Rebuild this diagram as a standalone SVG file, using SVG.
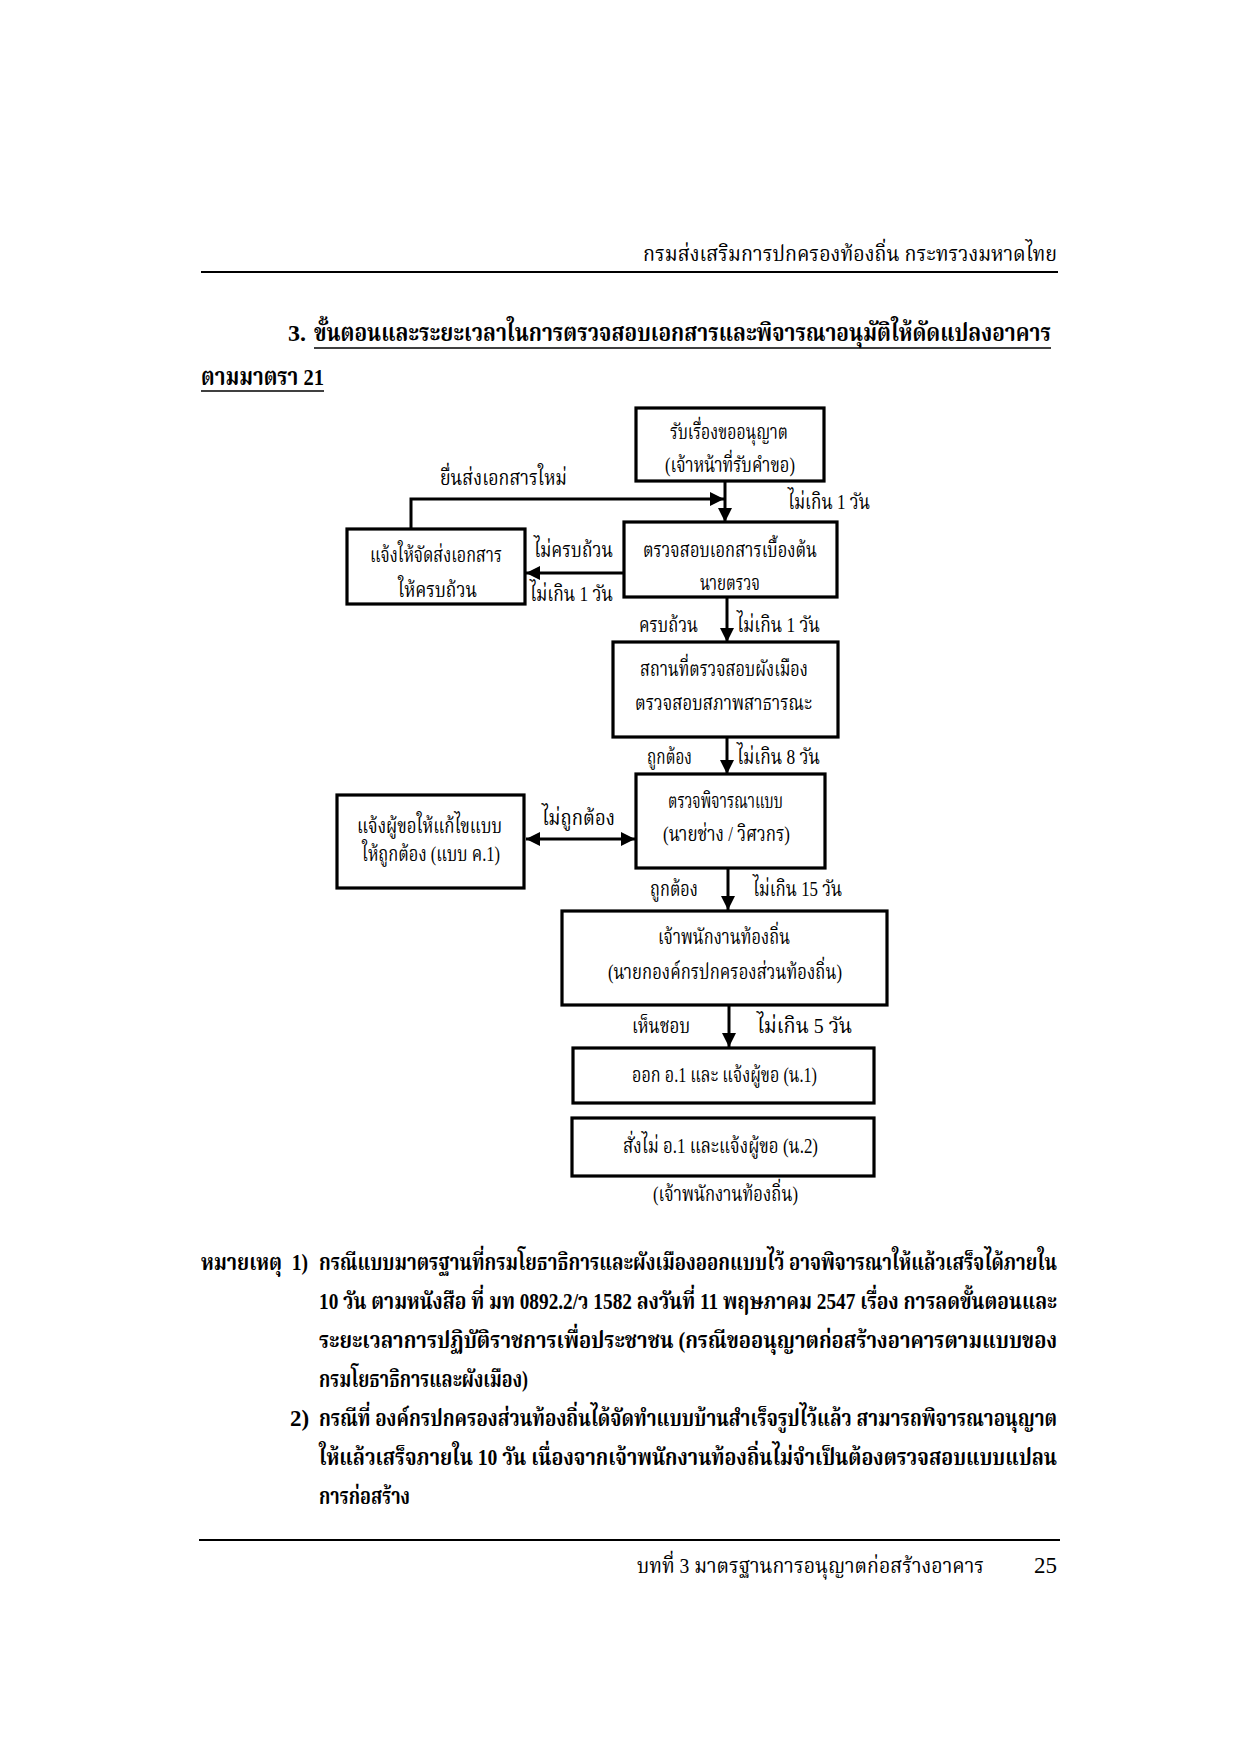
<svg xmlns="http://www.w3.org/2000/svg" width="1240" height="1754" viewBox="0 0 1240 1754">
<defs>
<style>
text{font-family:"Liberation Serif","Noto Serif Thai","Noto Sans Thai","Loma","Garuda","Norasi",serif;fill:#000}
.t{font-size:21px}
.c{text-anchor:middle}
.b{font-weight:bold}
.n{font-size:23px;font-weight:bold}
.box{fill:#fff;stroke:#000;stroke-width:3.2}
.ln{fill:none;stroke:#000;stroke-width:3}
.rule{stroke:#000;stroke-width:2}
</style>
<marker id="ah" viewBox="0 0 10 10" refX="10" refY="5" markerWidth="14" markerHeight="14" markerUnits="userSpaceOnUse" orient="auto-start-reverse">
<path d="M0,0 L10,5 L0,10 z" fill="#000"/>
</marker>
</defs>
<rect width="1240" height="1754" fill="#fff"/>

<g id="header">
<text class="t" x="1057" y="261" text-anchor="end" textLength="414" lengthAdjust="spacingAndGlyphs">กรมส่งเสริมการปกครองท้องถิ่น กระทรวงมหาดไทย</text>
<line class="rule" x1="201" y1="272" x2="1058" y2="272"/>
</g>

<g id="title">
<text class="b" x="288" y="341" font-size="24">3.</text>
<text class="b" x="314" y="341" font-size="24" textLength="737" lengthAdjust="spacingAndGlyphs">ขั้นตอนและระยะเวลาในการตรวจสอบเอกสารและพิจารณาอนุมัติให้ดัดแปลงอาคาร</text>
<line x1="314" y1="348" x2="1051" y2="348" stroke="#000" stroke-width="1.6"/>
<text class="b" x="201" y="385" font-size="24" textLength="123" lengthAdjust="spacingAndGlyphs">ตามมาตรา 21</text>
<line x1="201" y1="391" x2="324" y2="391" stroke="#000" stroke-width="1.6"/>
</g>

<g id="connectors">
<line class="ln" x1="725" y1="481" x2="725" y2="522" marker-end="url(#ah)"/>
<polyline class="ln" points="411,529 411,499 724,499" marker-end="url(#ah)"/>
<line class="ln" x1="624" y1="573" x2="526" y2="573" marker-end="url(#ah)"/>
<line class="ln" x1="727" y1="597" x2="727" y2="642" marker-end="url(#ah)"/>
<line class="ln" x1="727" y1="737" x2="727" y2="774" marker-end="url(#ah)"/>
<line class="ln" x1="526" y1="839" x2="635" y2="839" marker-start="url(#ah)" marker-end="url(#ah)"/>
<line class="ln" x1="728" y1="868" x2="728" y2="910" marker-end="url(#ah)"/>
<line class="ln" x1="729" y1="1005" x2="729" y2="1047" marker-end="url(#ah)"/>
<text class="t" x="440" y="485" textLength="127" lengthAdjust="spacingAndGlyphs">ยื่นส่งเอกสารใหม่</text>
<text class="t" x="788" y="509" textLength="82" lengthAdjust="spacingAndGlyphs">ไม่เกิน 1 วัน</text>
<text class="t" x="534" y="557" textLength="79" lengthAdjust="spacingAndGlyphs">ไม่ครบถ้วน</text>
<text class="t" x="530" y="601" textLength="83" lengthAdjust="spacingAndGlyphs">ไม่เกิน 1 วัน</text>
<text class="t" x="639" y="632" textLength="59" lengthAdjust="spacingAndGlyphs">ครบถ้วน</text>
<text class="t" x="737" y="632" textLength="83" lengthAdjust="spacingAndGlyphs">ไม่เกิน 1 วัน</text>
<text class="t" x="647" y="764" textLength="45" lengthAdjust="spacingAndGlyphs">ถูกต้อง</text>
<text class="t" x="737" y="764" textLength="83" lengthAdjust="spacingAndGlyphs">ไม่เกิน 8 วัน</text>
<text class="t" x="542" y="825" textLength="73" lengthAdjust="spacingAndGlyphs">ไม่ถูกต้อง</text>
<text class="t" x="650" y="896" textLength="48" lengthAdjust="spacingAndGlyphs">ถูกต้อง</text>
<text class="t" x="753" y="896" textLength="89" lengthAdjust="spacingAndGlyphs">ไม่เกิน 15 วัน</text>
<text class="t" x="632" y="1033" textLength="58" lengthAdjust="spacingAndGlyphs">เห็นชอบ</text>
<text class="t" x="757" y="1033" textLength="95" lengthAdjust="spacingAndGlyphs">ไม่เกิน 5 วัน</text>
</g>

<g id="n1">
<rect class="box" x="636" y="408" width="188" height="73"/>
<text class="t" x="670" y="439" textLength="118" lengthAdjust="spacingAndGlyphs">รับเรื่องขออนุญาต</text>
<text class="t" x="665" y="472" textLength="130" lengthAdjust="spacingAndGlyphs">(เจ้าหน้าที่รับคำขอ)</text>
</g>
<g id="n2">
<rect class="box" x="624" y="522" width="213" height="75"/>
<text class="t" x="643" y="557" textLength="174" lengthAdjust="spacingAndGlyphs">ตรวจสอบเอกสารเบื้องต้น</text>
<text class="t" x="700" y="590" textLength="60" lengthAdjust="spacingAndGlyphs">นายตรวจ</text>
</g>
<g id="n3">
<rect class="box" x="347" y="529" width="178" height="75"/>
<text class="t" x="370" y="562" textLength="132" lengthAdjust="spacingAndGlyphs">แจ้งให้จัดส่งเอกสาร</text>
<text class="t" x="398" y="597" textLength="79" lengthAdjust="spacingAndGlyphs">ให้ครบถ้วน</text>
</g>
<g id="n4">
<rect class="box" x="613" y="642" width="225" height="95"/>
<text class="t" x="640" y="676" textLength="168" lengthAdjust="spacingAndGlyphs">สถานที่ตรวจสอบผังเมือง</text>
<text class="t" x="635" y="710" textLength="177" lengthAdjust="spacingAndGlyphs">ตรวจสอบสภาพสาธารณะ</text>
</g>
<g id="n5">
<rect class="box" x="636" y="774" width="189" height="94"/>
<text class="t" x="668" y="808" textLength="115" lengthAdjust="spacingAndGlyphs">ตรวจพิจารณาแบบ</text>
<text class="t" x="663" y="841" textLength="127" lengthAdjust="spacingAndGlyphs">(นายช่าง / วิศวกร)</text>
</g>
<g id="n6">
<rect class="box" x="337" y="795" width="187" height="93"/>
<text class="t" x="357" y="833" textLength="145" lengthAdjust="spacingAndGlyphs">แจ้งผู้ขอให้แก้ไขแบบ</text>
<text class="t" x="362" y="861" textLength="138" lengthAdjust="spacingAndGlyphs">ให้ถูกต้อง (แบบ ค.1)</text>
</g>
<g id="n7">
<rect class="box" x="562" y="911" width="325" height="94"/>
<text class="t" x="658" y="944" textLength="132" lengthAdjust="spacingAndGlyphs">เจ้าพนักงานท้องถิ่น</text>
<text class="t" x="608" y="979" textLength="234" lengthAdjust="spacingAndGlyphs">(นายกองค์กรปกครองส่วนท้องถิ่น)</text>
</g>
<g id="n8">
<rect class="box" x="573" y="1048" width="301" height="55"/>
<text class="t" x="632" y="1082" textLength="185" lengthAdjust="spacingAndGlyphs">ออก อ.1 และ แจ้งผู้ขอ (น.1)</text>
</g>
<g id="n9">
<rect class="box" x="572" y="1118" width="302" height="58"/>
<text class="t" x="623" y="1153" textLength="195" lengthAdjust="spacingAndGlyphs">สั่งไม่ อ.1 และแจ้งผู้ขอ (น.2)</text>
</g>
<g id="n9label">
<text class="t" x="653" y="1201" textLength="145" lengthAdjust="spacingAndGlyphs">(เจ้าพนักงานท้องถิ่น)</text>
</g>

<g id="notes">
<text class="n" x="201" y="1270" xml:space="preserve" textLength="107" lengthAdjust="spacingAndGlyphs">หมายเหตุ  1)</text>
<text class="n" x="319" y="1270" textLength="738" lengthAdjust="spacingAndGlyphs">กรณีแบบมาตรฐานที่กรมโยธาธิการและผังเมืองออกแบบไว้ อาจพิจารณาให้แล้วเสร็จได้ภายใน</text>
<text class="n" x="319" y="1309" textLength="738" lengthAdjust="spacingAndGlyphs">10 วัน ตามหนังสือ ที่ มท 0892.2/ว 1582 ลงวันที่ 11 พฤษภาคม 2547 เรื่อง การลดขั้นตอนและ</text>
<text class="n" x="319" y="1348" textLength="738" lengthAdjust="spacingAndGlyphs">ระยะเวลาการปฏิบัติราชการเพื่อประชาชน (กรณีขออนุญาตก่อสร้างอาคารตามแบบของ</text>
<text class="n" x="319" y="1387" textLength="209" lengthAdjust="spacingAndGlyphs">กรมโยธาธิการและผังเมือง)</text>
<text class="n" x="290" y="1426">2)</text>
<text class="n" x="319" y="1426" textLength="738" lengthAdjust="spacingAndGlyphs">กรณีที่ องค์กรปกครองส่วนท้องถิ่นได้จัดทำแบบบ้านสำเร็จรูปไว้แล้ว สามารถพิจารณาอนุญาต</text>
<text class="n" x="319" y="1465" textLength="738" lengthAdjust="spacingAndGlyphs">ให้แล้วเสร็จภายใน 10 วัน เนื่องจากเจ้าพนักงานท้องถิ่นไม่จำเป็นต้องตรวจสอบแบบแปลน</text>
<text class="n" x="319" y="1504" textLength="91" lengthAdjust="spacingAndGlyphs">การก่อสร้าง</text>
</g>

<g id="footer">
<line class="rule" x1="199" y1="1540" x2="1060" y2="1540"/>
<text class="t" x="637" y="1573" textLength="347" lengthAdjust="spacingAndGlyphs">บทที่ 3  มาตรฐานการอนุญาตก่อสร้างอาคาร</text>
<text x="1057" y="1573" font-size="23" text-anchor="end">25</text>
</g>
</svg>
